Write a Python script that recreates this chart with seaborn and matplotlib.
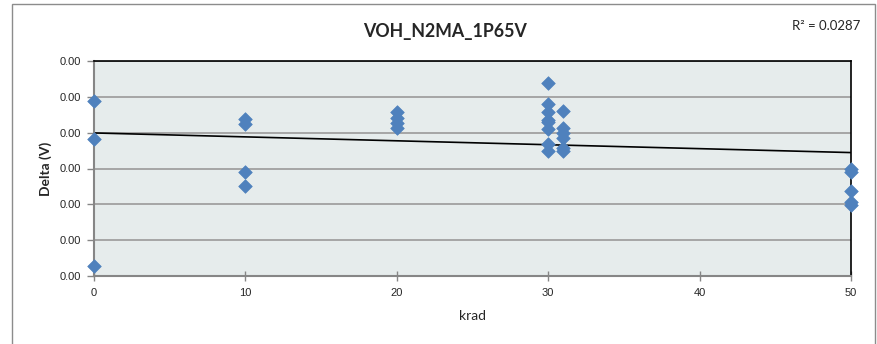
import numpy as np
import pandas as pd
import matplotlib
matplotlib.use("Agg")
import matplotlib.pyplot as plt
import seaborn as sns
from matplotlib.patches import Rectangle
from matplotlib.ticker import FormatStrFormatter

# ---- data ----
krad = [0, 0, 0,
        10, 10, 10, 10,
        20, 20, 20, 20,
        30, 30, 30, 30, 30, 30, 30, 30,
        31, 31, 31, 31, 31, 31,
        50, 50, 50, 50, 50]
delta = [0.002442, 0.001912, 0.000140,
         0.002191, 0.002121, 0.001451, 0.001256,
         0.002288, 0.002205, 0.002135, 0.002065,
         0.002693, 0.002400, 0.002288, 0.002177, 0.002149, 0.002051, 0.001842, 0.001744,
         0.002302, 0.002065, 0.001995, 0.001926, 0.001786, 0.001744,
         0.001493, 0.001451, 0.001186, 0.001033, 0.000991]
x_ticks = [0, 10, 20, 30, 40, 50]
y_ticks = [0.0, 0.0005, 0.0010, 0.0015, 0.0020, 0.0025, 0.0030]
title = "VOH_N2MA_1P65V"
r2_text = "R² = 0.0287"

df = pd.DataFrame({"krad": krad, "delta": delta})

sns.set_theme(style="white")
plt.rcParams["font.family"] = ["Lato", "DejaVu Sans"]

fig = plt.figure(figsize=(8.77, 3.44), dpi=100)
ax = fig.add_axes([94/877, 1-276/344, (851-94)/877, (276-61)/344])

# outer chart border
fig.patches.append(Rectangle((12/877, -0.1), (875-12)/877, 1-4/344+0.1,
                             transform=fig.transFigure, fill=False,
                             edgecolor="#8C8C8C", linewidth=1.0))

ax.set_facecolor("#E6ECEC")
ax.set_axisbelow(True)
ax.yaxis.grid(True, color="#A6A6A6", linewidth=1.4)
ax.xaxis.grid(False)

# trend line (linear fit)
coef = np.polyfit(df["krad"], df["delta"], 1)
xs = np.array([0, 50])
ax.plot(xs, np.polyval(coef, xs), color="black", linewidth=1.2, zorder=2)

sns.scatterplot(data=df, x="krad", y="delta", marker="D", s=48,
                color="#4F81BD", edgecolor="#4F81BD", linewidth=0.5,
                ax=ax, zorder=3, clip_on=False)

ax.set_xlim(0, 50)
ax.set_ylim(0, 0.003)
ax.set_xticks(x_ticks)
ax.set_yticks(y_ticks)
ax.yaxis.set_major_formatter(FormatStrFormatter("%.2f"))

for s in ["left", "bottom"]:
    ax.spines[s].set_color("#868686")
    ax.spines[s].set_linewidth(1.5)
for s in ["top", "right"]:
    ax.spines[s].set_color("black")
    ax.spines[s].set_linewidth(1.2)

ax.tick_params(axis="y", which="major", direction="out", length=5, width=1,
               color="#868686", labelsize=8, pad=4, left=True)
ax.tick_params(axis="x", which="major", direction="inout", length=7, width=1,
               color="#868686", labelsize=8, pad=5, bottom=True)
for lab in ax.get_yticklabels() + ax.get_xticklabels():
    lab.set_fontfamily(["Liberation Sans", "DejaVu Sans"])

ax.set_xlabel("krad", fontsize=10, labelpad=9)
ax.set_ylabel("Delta (V)", fontsize=10, fontweight="bold", labelpad=6)

fig.text(445/877, 1-31/344, title, ha="center", va="center",
         fontsize=12.8, fontweight="bold")
fig.text(826/877, 1-26/344, r2_text, ha="center", va="center", fontsize=9.5)

fig.savefig("out.png", dpi=100)
